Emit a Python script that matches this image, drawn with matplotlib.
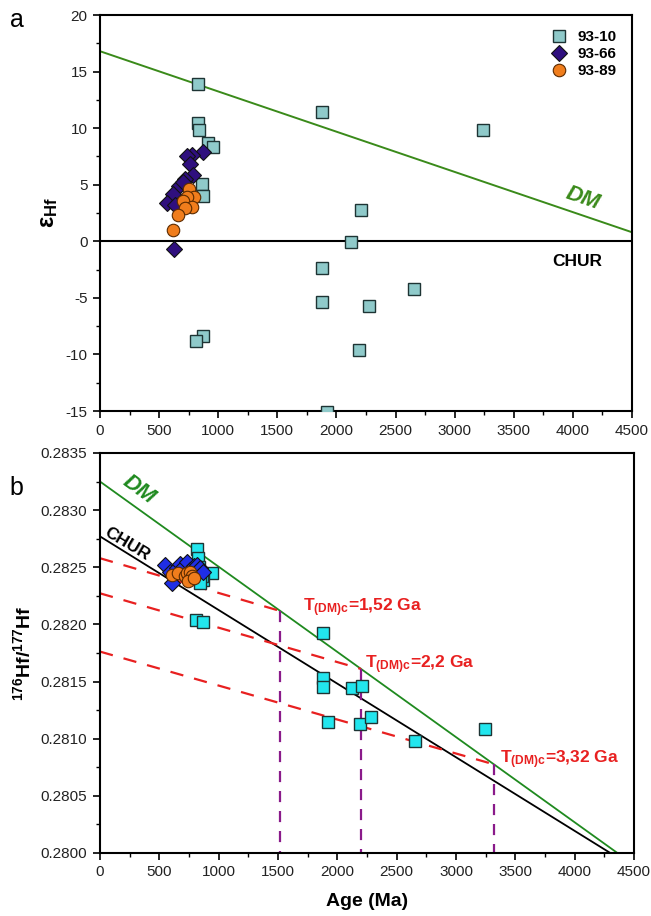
import numpy as np
import matplotlib
matplotlib.use("Agg")
from matplotlib import pyplot as plt
from matplotlib.ticker import MultipleLocator, FormatStrFormatter

plt.rcParams['font.family'] = ['Liberation Sans', 'DejaVu Sans']
plt.rcParams['mathtext.fontset'] = 'custom'
plt.rcParams['mathtext.rm'] = 'Liberation Sans'
plt.rcParams['mathtext.bf'] = 'Liberation Sans:bold'
plt.rcParams['mathtext.it'] = 'Liberation Sans:italic'
plt.rcParams['axes.unicode_minus'] = False

# ---- panel a: epsilon Hf vs age ----
sq_age_a = [826, 826, 838, 914, 953, 860, 874, 871, 812, 1881, 3238, 2211, 2124, 1881, 2657, 1881, 2279, 2191, 1923]
sq_eps_a = [13.9, 10.5, 9.8, 8.7, 8.3, 5.1, 4.0, -8.4, -8.8, 11.4, 9.8, 2.8, -0.1, -2.4, -4.2, -5.4, -5.7, -9.6, -15.1]
di_age_a = [874, 776, 733, 761, 784, 719, 671, 620, 570, 637, 629, 700]
di_eps_a = [7.9, 7.6, 7.5, 6.8, 5.9, 5.5, 4.9, 4.2, 3.4, 3.2, -0.7, 5.2]
ci_age_a = [756, 795, 733, 705, 776, 719, 663, 620]
ci_eps_a = [4.6, 3.9, 3.9, 3.6, 3.0, 2.9, 2.3, 1.0]
dm_age_a = [0, 4500]
dm_eps_a = [16.8, 0.8]

# ---- panel b: 176Hf/177Hf vs age ----
sq_age_b = [820, 826, 941, 871, 860, 834, 845, 809, 865, 1882, 1876, 1876, 2121, 2211, 1924, 2191, 2281, 2654, 3244]
sq_hf_b = [0.282657, 0.28258, 0.282447, 0.282389, 0.28242, 0.28250, 0.28236, 0.282039, 0.282024,
           0.281923, 0.281529, 0.28145, 0.281441, 0.281464, 0.281144, 0.281129, 0.281188, 0.28098, 0.281089]
di_age_b = [548, 590, 604, 646, 674, 700, 730, 758, 790, 815, 840, 871]
di_hf_b = [0.28252, 0.28246, 0.28236, 0.28249, 0.28253, 0.28250, 0.28255, 0.28248, 0.28251, 0.28252, 0.28249, 0.28246]
ci_age_b = [604, 660, 716, 730, 758, 773, 745, 790]
ci_hf_b = [0.28243, 0.28245, 0.28242, 0.28245, 0.28246, 0.28242, 0.28238, 0.28241]
dm_age_b = [0, 4360]
dm_hf_b = [0.28325, 0.28000]
chur_age_b = [0, 4300]
chur_hf_b = [0.28277, 0.28000]
tdm_ages = [1520, 2200, 3320]
tdm_start = [0.282579, 0.282272, 0.281762]
tdm_labels = ["1,52", "2,2", "3,32"]

sq_kw = dict(marker='s', ms=8, mec='#1e3434', mew=1.0, ls='none')
di_kw = dict(marker='D', ms=8, mec='#111111', mew=0.8, ls='none')
ci_kw = dict(marker='o', ms=9, mec='#5a2a00', mew=0.8, ls='none')

fig = plt.figure(figsize=(6.51, 9.16), dpi=100)
ax1 = fig.add_axes([0.1536, 0.5513, 0.8172, 0.4323])
ax2 = fig.add_axes([0.1536, 0.0688, 0.8203, 0.4367])

# panel a
ax1.axhline(0, color='black', lw=1.5, zorder=2)
ax1.plot(dm_age_a, dm_eps_a, color='#3a8a1a', lw=1.4, zorder=2)
ax1.plot(sq_age_a, sq_eps_a, mfc='#8fcaca', label='93-10', zorder=3, **sq_kw)
ax1.plot(di_age_a, di_eps_a, mfc='#2f0f7e', label='93-66', zorder=4, **di_kw)
ax1.plot(ci_age_a, ci_eps_a, mfc='#f07d1c', label='93-89', zorder=5, **ci_kw)
ax1.set_xlim(0, 4500)
ax1.set_ylim(-15, 20)
ax1.xaxis.set_major_locator(MultipleLocator(500))
ax1.xaxis.set_minor_locator(MultipleLocator(250))
ax1.yaxis.set_major_locator(MultipleLocator(5))
ax1.yaxis.set_minor_locator(MultipleLocator(2.5))
ax1.set_ylabel(r'$\mathbf{\varepsilon_{Hf}}$', fontsize=17, labelpad=4)
ax1.text(4083, 3.8, 'DM', color='#3a8a1a', fontsize=16, fontweight='bold', fontstyle='italic',
         rotation=-19, ha='center', va='center')
ax1.text(4040, -1.8, 'CHUR', color='black', fontsize=12.5, fontweight='bold', ha='center', va='center')
leg = ax1.legend(loc='upper right', frameon=False, fontsize=11, handletextpad=0.6,
                 labelspacing=0.2, borderaxespad=0.6, handlelength=1.2)
for t in leg.get_texts():
    t.set_fontweight('bold')

# panel b
ax2.plot(dm_age_b, dm_hf_b, color='#1f8a1f', lw=1.3, zorder=2)
ax2.plot(chur_age_b, chur_hf_b, color='black', lw=1.3, zorder=2)
for t, y0, lab in zip(tdm_ages, tdm_start, tdm_labels):
    y_dm = np.interp(t, dm_age_b, dm_hf_b)
    ax2.plot([0, t], [y0, y_dm], color='#e82020', lw=1.6, ls=(0, (6, 5)), zorder=2)
    ax2.plot([t, t], [y_dm, 0.2800], color='#8a1a8a', lw=1.6, ls=(0, (5, 4)), zorder=2)
ax2.plot(sq_age_b, sq_hf_b, mfc='#22e6ee', zorder=3, **sq_kw)
ax2.plot(di_age_b, di_hf_b, mfc='#1f2ee6', zorder=4, **di_kw)
ax2.plot(ci_age_b, ci_hf_b, mfc='#f07d1c', zorder=5, **ci_kw)
lab_pos = [(1710, 0.28215), (2230, 0.28165), (3370, 0.28082)]
for (x, y), lab in zip(lab_pos, tdm_labels):
    ax2.text(x, y, r'$\mathbf{T_{(DM)c}}$' + '=' + lab + ' Ga', color='#e82020', fontsize=12.5,
             fontweight='bold', ha='left', va='center')
ax2.text(330, 0.28318, 'DM', color='#1f8a1f', fontsize=16, fontweight='bold', fontstyle='italic',
         rotation=-36, ha='center', va='center')
ax2.text(230, 0.28270, 'CHUR', color='black', fontsize=12.5, fontweight='bold',
         rotation=-31, ha='center', va='center')
ax2.set_xlim(0, 4500)
ax2.set_ylim(0.2800, 0.2835)
ax2.xaxis.set_major_locator(MultipleLocator(500))
ax2.xaxis.set_minor_locator(MultipleLocator(250))
ax2.yaxis.set_major_locator(MultipleLocator(0.0005))
ax2.yaxis.set_minor_locator(MultipleLocator(0.00025))
ax2.yaxis.set_major_formatter(FormatStrFormatter('%.4f'))
ax2.set_xlabel('Age (Ma)', fontsize=14, fontweight='bold', labelpad=10)
ax2.set_ylabel(r'$\mathbf{^{176}Hf/^{177}Hf}$', fontsize=14, labelpad=5)

for ax in (ax1, ax2):
    for s in ax.spines.values():
        s.set_linewidth(1.5)
        s.set_color('black')
    ax.tick_params(which='major', direction='out', length=5, width=1.2, labelsize=11,
                   labelcolor='#222222', pad=4)
    ax.tick_params(which='minor', direction='out', length=3, width=1.0)

fig.text(0.015, 0.978, 'a', fontsize=18, ha='left', va='center')
fig.text(0.015, 0.467, 'b', fontsize=18, ha='left', va='center')

fig.savefig('out.png', dpi=100)
